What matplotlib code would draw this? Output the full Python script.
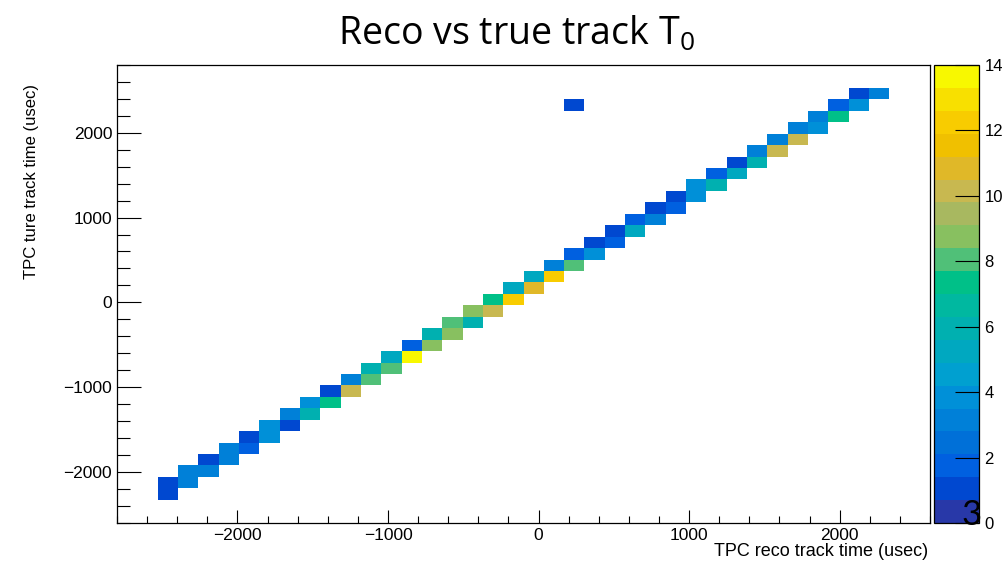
import numpy as np
import matplotlib
matplotlib.use("Agg")
import matplotlib.pyplot as plt
from matplotlib.colors import ListedColormap, BoundaryNorm
from matplotlib.ticker import MultipleLocator

plt.rcParams['font.family'] = ['Liberation Sans', 'DejaVu Sans']
plt.rcParams['mathtext.default'] = 'regular'

# histogram binning (40 x 40)
nbins = 40
reco_range = (-2800, 2600)
true_range = (-2600, 2800)

# the diagonal: reco bin k fills true bins k (lower) and k+1 (upper)
first_bin = 2
lower_counts = [1, 3, 3, 3, 2, 4, 1, 6, 7, 10, 8, 8, 14, 9, 9, 6, 10, 12,
                11, 12, 8, 4, 2, 5, 3, 2, 4, 6, 5, 6, 10, 10, 4, 7, 4, 3]
upper_counts = [1, 3, 1, 3, 1, 4, 3, 4, 1, 3, 6, 5, 2, 6, 8, 9, 7, 5,
                5, 3, 2, 1, 1, 2, 1, 1, 4, 2, 1, 3, 3, 3, 3, 2, 1, 0]
# one stray entry off the diagonal: (reco bin, true bin, count)
stray = (22, 36, 1)

zmax = 14
ncont = 20
palette = ['#2838a8', '#0048d0', '#0060e0', '#0070d8', '#0080d8',
           '#0090d8', '#00a0d0', '#00a8c0', '#00b0b0', '#00b8a0',
           '#00c088', '#50c078', '#88c060', '#a8b860', '#c8b850',
           '#e0b828', '#f0c000', '#f8cc00', '#f8e000', '#f8f800']

H = np.zeros((nbins, nbins))
for i, (lo, up) in enumerate(zip(lower_counts, upper_counts)):
    k = first_bin + i
    H[k, k] += lo
    H[k, k + 1] += up
H[stray[0], stray[1]] += stray[2]

xedges = np.linspace(reco_range[0], reco_range[1], nbins + 1)
yedges = np.linspace(true_range[0], true_range[1], nbins + 1)
Hm = np.ma.masked_equal(H.T, 0)

cmap = ListedColormap(palette)
norm = BoundaryNorm(np.linspace(0, zmax, ncont + 1), cmap.N)

fig = plt.figure(figsize=(10.05, 5.64), dpi=100)
W, Hpx = 1005.0, 564.0
ax = fig.add_axes([117 / W, 1 - 522.7 / Hpx, 813 / W, 457.7 / Hpx])
mesh = ax.pcolormesh(xedges, yedges, Hm, cmap=cmap, norm=norm)
ax.set_xlim(*reco_range)
ax.set_ylim(*true_range)

ax.xaxis.set_major_locator(MultipleLocator(1000))
ax.xaxis.set_minor_locator(MultipleLocator(200))
ax.yaxis.set_major_locator(MultipleLocator(1000))
ax.yaxis.set_minor_locator(MultipleLocator(200))
ax.tick_params(axis='x', which='major', direction='in', length=9.4, width=0.8,
               labelsize=12.5, pad=4, top=False)
ax.tick_params(axis='x', which='minor', direction='in', length=5, width=0.8, top=False)
ax.tick_params(axis='y', which='major', direction='in', length=17, width=0.8,
               labelsize=12.5, pad=3.5, right=False)
ax.tick_params(axis='y', which='minor', direction='in', length=9, width=0.8, right=False)
for s in ax.spines.values():
    s.set_linewidth(0.9)

cax = fig.add_axes([934 / W, 1 - 523 / Hpx, 45 / W, 458 / Hpx])
cb = fig.colorbar(mesh, cax=cax, ticks=np.arange(0, zmax + 1, 2))
cb.outline.set_linewidth(0.9)
cax.tick_params(direction='in', length=17, width=0.8, labelsize=12, pad=4)
cax.minorticks_off()

fig.text(517 / W, 1 - 34 / Hpx, 'Reco vs true track T$_0$', family='Open Sans',
         fontsize=27, ha='center', va='center')
fig.text(928 / W, 1 - 552 / Hpx, 'TPC reco track time (usec)', fontsize=13,
         ha='right', va='center')
fig.text(32 / W, 1 - 84 / Hpx, 'TPC ture track time (usec)', fontsize=12,
         rotation=90, ha='center', va='top')
fig.text(972 / W, 1 - 515 / Hpx, '3', family='Lato', fontsize=25,
         ha='center', va='center')

fig.savefig('out.png', dpi=100)
